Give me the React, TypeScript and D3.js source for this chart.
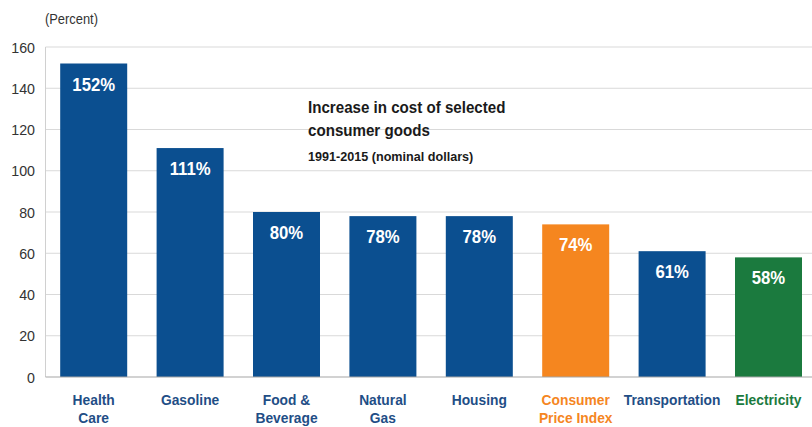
import React from "react";
import * as d3 from "d3";

const categories = ["Health Care", "Gasoline", "Food & Beverage", "Natural Gas", "Housing", "Consumer Price Index", "Transportation", "Electricity"];
const categoryLines = [["Health", "Care"], ["Gasoline"], ["Food &", "Beverage"], ["Natural", "Gas"], ["Housing"], ["Consumer", "Price Index"], ["Transportation"], ["Electricity"]];
const values = [152, 111, 80, 78, 78, 74, 61, 58];
const valueLabels = ["152%", "111%", "80%", "78%", "78%", "74%", "61%", "58%"];
const kinds = ["item", "item", "item", "item", "item", "cpi", "item", "elec"];
const yTicks = [0, 20, 40, 60, 80, 100, 120, 140, 160];
const titleLines = ["Increase in cost of selected", "consumer goods"];
const subtitle = "1991-2015 (nominal dollars)";

const barColor: Record<string, string> = { item: "#0B4F90", cpi: "#F5861F", elec: "#1B7A3E" };
const labelColor: Record<string, string> = { item: "#1F4E86", cpi: "#F5861F", elec: "#1B7A3E" };

const FONT = "'Liberation Sans', Arial, sans-serif";

function CText(props: { x: number; y: number; sx: number; anchor?: string; size: number; weight?: string; fill: string; children: React.ReactNode }) {
  const { x, y, sx, anchor, size, weight, fill, children } = props;
  return (
    <text transform={`translate(${x},${y}) scale(${sx},1)`} textAnchor={anchor || "start"} fontSize={size} fontWeight={weight || "normal"} fill={fill}>
      {children}
    </text>
  );
}

export default function App() {
  const W = 812, H = 427;
  const left = 45.5, right = 816.7, top = 47, bottom = 377;
  const x = d3.scaleBand<string>().domain(categories).range([left, right]).paddingInner(0.305).paddingOuter(0.1525);
  const y = d3.scaleLinear().domain([0, 160]).range([bottom, top]);
  return (
    <svg width={W} height={H} style={{ position: "absolute", left: 0, top: 0, background: "#fff" }} fontFamily={FONT}>
      <rect x={0} y={0} width={W} height={H} fill="#fff" />
      {yTicks.map((t) => (
        <g key={t}>
          {t > 0 && <line x1={left} x2={W} y1={y(t)} y2={y(t)} stroke="#d9d9d9" strokeWidth={1} />}
          <CText x={35} y={y(t) + 5.5} sx={0.95} anchor="end" size={15} fill="#333">{t}</CText>
        </g>
      ))}
      <line x1={left} x2={left} y1={top} y2={bottom} stroke="#d0d0d0" strokeWidth={1} />
      <CText x={45} y={24} sx={0.92} size={14} fill="#333">(Percent)</CText>
      {categories.map((c, i) => {
        const bx = x(c)!;
        const bw = x.bandwidth();
        const cx = bx + bw / 2;
        return (
          <g key={c}>
            <rect x={bx} y={y(values[i])} width={bw} height={bottom - y(values[i])} fill={barColor[kinds[i]]} />
            <CText x={cx} y={y(values[i]) + 27} sx={0.88} anchor="middle" size={19} weight="bold" fill="#fff">{valueLabels[i]}</CText>
            {categoryLines[i].map((ln, j) => (
              <CText key={j} x={cx} y={405 + j * 18} sx={0.92} anchor="middle" size={15} weight="bold" fill={labelColor[kinds[i]]}>{ln}</CText>
            ))}
          </g>
        );
      })}
      <line x1={left} x2={W} y1={bottom} y2={bottom} stroke="#a6a6a6" strokeWidth={1.2} />
      {titleLines.map((t, i) => (
        <CText key={i} x={308} y={113 + i * 23} sx={0.89} size={17} weight="bold" fill="#1a1a1a">{t}</CText>
      ))}
      <CText x={308} y={161} sx={0.97} size={13} weight="bold" fill="#1a1a1a">{subtitle}</CText>
    </svg>
  );
}
